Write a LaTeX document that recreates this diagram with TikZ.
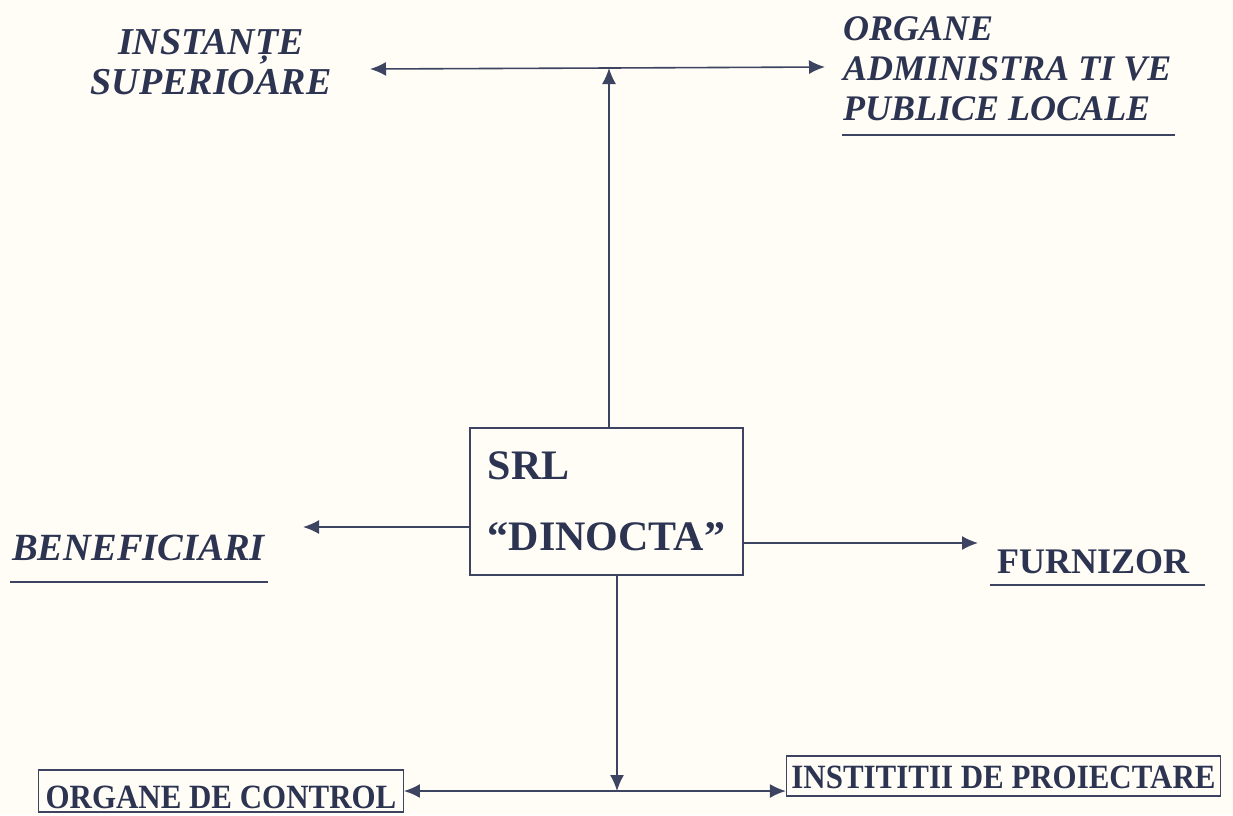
\documentclass[tikz,border=0pt]{standalone}
\usepackage{fontspec}
\setmainfont{Liberation Serif}
\newfontfamily\narrowserif[FakeStretch=0.91]{Liberation Serif}
\usetikzlibrary{arrows.meta,calc}
\definecolor{ink}{RGB}{44,52,82}
\definecolor{lineink}{RGB}{60,68,98}
\definecolor{paper}{RGB}{255,253,246}
\tikzset{
  arr/.style={draw=lineink, line width=1.6pt, -{Latex[length=16pt,width=14pt]}},
  uline/.style={draw=lineink, line width=1.3pt},
  itlab/.style={text=ink, inner sep=0pt},
  boxlab/.style={draw=lineink, line width=1.2pt, text=ink,
    font=\narrowserif\bfseries\fontsize{34}{36}\selectfont}
}
\begin{document}
\begin{tikzpicture}[x=1pt,y=-1pt]
\useasboundingbox (0,0) rectangle (1233,815);
\fill[paper] (0,0) rectangle (1233,815);

% labels
\node[itlab, anchor=north, align=center,
  font=\fontsize{38}{40}\selectfont\bfseries\itshape] (sup) at (211,29) {INSTANȚE\\SUPERIOARE};
\node[itlab, anchor=north west, align=left,
  font=\fontsize{36}{40}\selectfont\bfseries\itshape] (org) at (843,16) {ORGANE\\ADMINISTRA TI VE\\PUBLICE LOCALE};
\node[itlab, anchor=base west,
  font=\fontsize{38.5}{40}\selectfont\bfseries\itshape] (ben) at (12,560) {BENEFICIARI};
\node[itlab, anchor=base west,
  font=\fontsize{36}{40}\selectfont\bfseries] (fur) at (997,573) {FURNIZOR};

% central box
\node[draw=lineink, line width=1.2pt, text=ink, align=left,
  minimum width=273pt, minimum height=147pt,
  font=\fontsize{42}{71}\selectfont\bfseries] (firm) at (606.5,501.5) {SRL\\“DINOCTA”};

% bottom boxes
\node[boxlab, anchor=base, text height=34pt, text depth=0pt, inner ysep=4pt, inner xsep=7pt]
  (ctrl) at (221,808) {ORGANE DE CONTROL};
\node[boxlab, anchor=base, text height=28pt, text depth=4pt, inner ysep=4pt, inner xsep=5pt]
  (proj) at (1003.5,788) {INSTITITII DE PROIECTARE};

% underlines
\draw[uline] (842,135) -- (1175,135);
\draw[uline] (10,582) -- (268,582);
\draw[uline] (990,585) -- (1205,585);

% junctions and free ends
\coordinate (topj) at (609,68);
\coordinate (topL) at (370,69);
\coordinate (topR) at (825,67);
\coordinate (benTip) at (303,527);
\coordinate (furTip) at (978,543);
\coordinate (botj) at (617,791);

% connectors
\draw[arr] (firm.north -| topj) -- (topj);
\draw[arr] (topj) -- (topL);
\draw[arr] (topj) -- (topR);
\draw[arr] (firm.west |- benTip) -- (benTip);
\draw[arr] (firm.east |- furTip) -- (furTip);
\draw[arr] (firm.south -| botj) -- (botj);
\draw[arr] (botj) -- (ctrl.east |- botj);
\draw[arr] (botj) -- (proj.west |- botj);
\end{tikzpicture}
\end{document}
